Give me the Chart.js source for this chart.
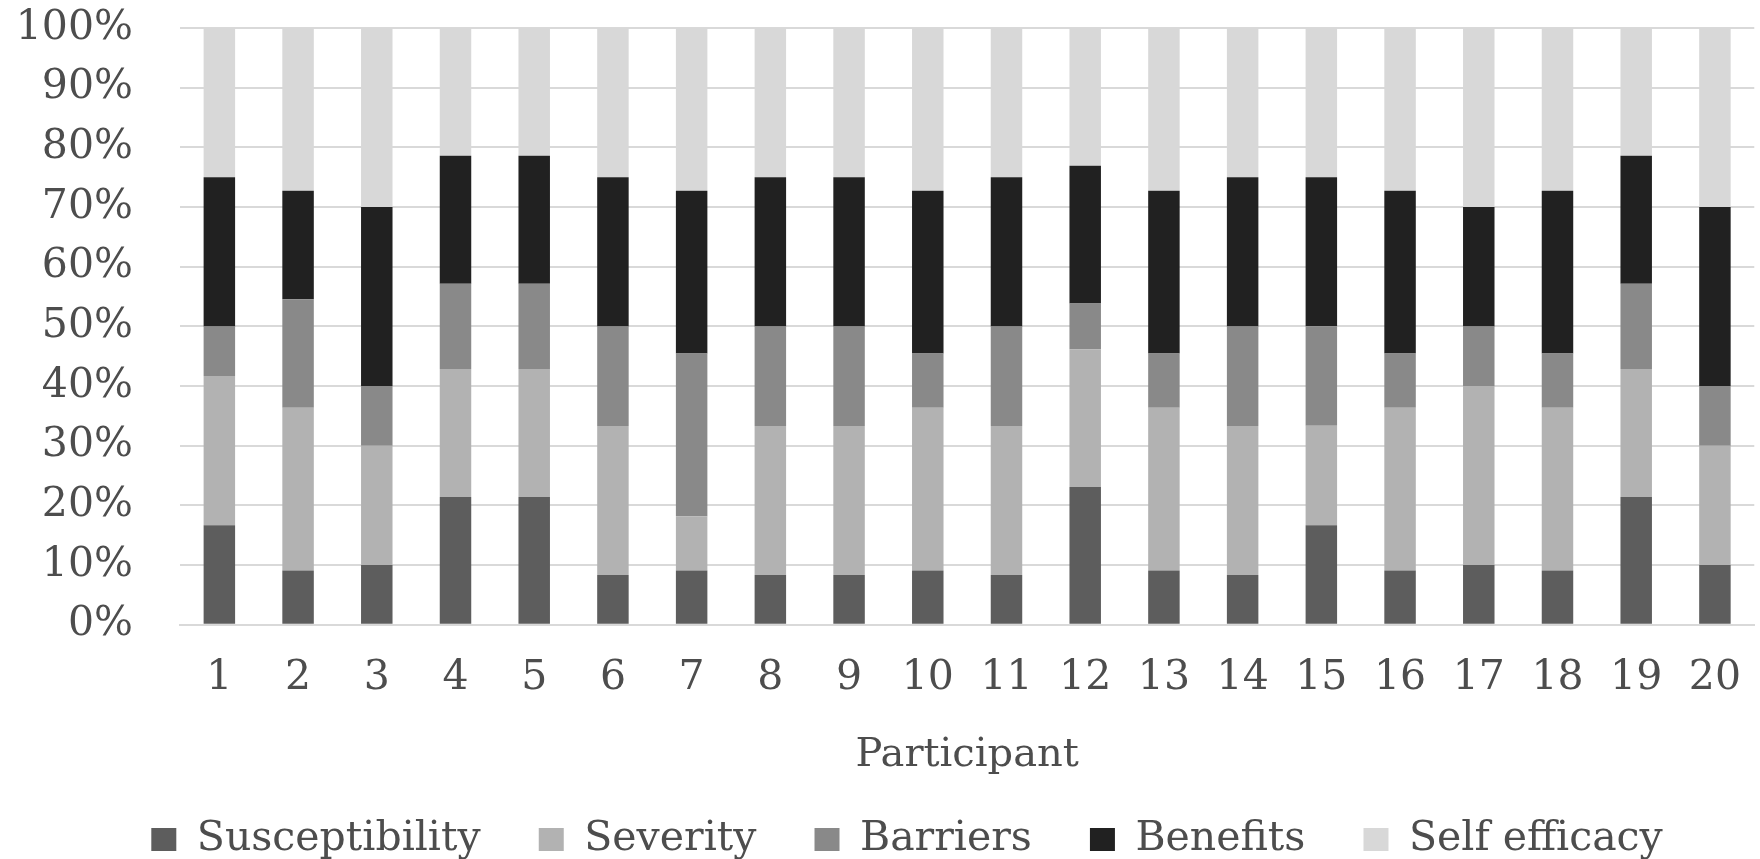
<!DOCTYPE html>
<html>
<head>
<meta charset="utf-8">
<script src="https://cdn.jsdelivr.net/npm/chart.js@4"></script>
<style>
	html, body { margin: 0; padding: 0; background: #fff; overflow: hidden; }
	#wrap { width: 1770px; height: 870px; }
</style>
</head>
<body>
<div id="wrap"><canvas id="barChart" width="1770" height="870"></canvas></div>
<script>
// Share of each construct per participant (percent of that participant's total)
const participants = ["1","2","3","4","5","6","7","8","9","10","11","12","13","14","15","16","17","18","19","20"];

const susceptibility = [16.67, 9.09, 10, 21.43, 21.43, 8.33, 9.09, 8.33, 8.33, 9.09, 8.33, 23.08, 9.09, 8.33, 16.67, 9.09, 10, 9.09, 21.43, 10];
const severity       = [25, 27.27, 20, 21.43, 21.43, 25, 9.09, 25, 25, 27.27, 25, 23.08, 27.27, 25, 16.67, 27.27, 30, 27.27, 21.43, 20];
const barriers       = [8.33, 18.18, 10, 14.29, 14.29, 16.67, 27.27, 16.67, 16.67, 9.09, 16.67, 7.69, 9.09, 16.67, 16.67, 9.09, 10, 9.09, 14.29, 10];
const benefits       = [25, 18.18, 30, 21.43, 21.43, 25, 27.27, 25, 25, 27.27, 25, 23.08, 27.27, 25, 25, 27.27, 20, 27.27, 21.43, 30];
const selfEfficacy   = [25, 27.27, 30, 21.43, 21.43, 25, 27.27, 25, 25, 27.27, 25, 23.08, 27.27, 25, 25, 27.27, 30, 27.27, 21.43, 30];

const yTicks = [0, 10, 20, 30, 40, 50, 60, 70, 80, 90, 100];

// nudges the legend row a little to the right of the canvas centre
const legendShift = {
	id: "legendShift",
	afterLayout: function(chart) {
		if (chart.legend) {
			chart.legend.left += 18;
			chart.legend.right += 18;
		}
	}
};

document.addEventListener('DOMContentLoaded', function() {
	const textColor = "#4d4d4d";
	const fontFamily = "'DejaVu Serif', serif";

	const ctx = document.getElementById("barChart").getContext("2d");

	const series = [
		{ label: "Susceptibility", data: susceptibility, color: "#5d5d5d" },
		{ label: "Severity",       data: severity,       color: "#b2b2b2" },
		{ label: "Barriers",       data: barriers,       color: "#898989" },
		{ label: "Benefits",       data: benefits,       color: "#212121" },
		{ label: "Self efficacy",  data: selfEfficacy,   color: "#d8d8d8" }
	];

	new Chart(ctx, {
		type: "bar",
		data: {
			labels: participants,
			datasets: series.map(s => ({
				label: s.label,
				data: s.data,
				backgroundColor: s.color,
				borderWidth: 0,
				categoryPercentage: 1,
				barPercentage: 0.40
			}))
		},
		plugins: [legendShift],
		options: {
			responsive: false,
			animation: false,
			layout: { padding: { left: 8, right: 0, top: 28, bottom: 0 } },
			plugins: {
				tooltip: { enabled: false },
				legend: {
					display: true,
					position: "bottom",
					labels: {
						color: textColor,
						font: { family: fontFamily, size: 41 },
						boxWidth: 25,
						boxHeight: 23,
						padding: 6,
						// a few trailing spaces widen the gap between entries
						generateLabels: function(chart) {
							const items = Chart.defaults.plugins.legend.labels.generateLabels(chart);
							items.forEach((item, i) => {
								item.lineWidth = 0;
								if (i < items.length - 1) item.text = item.text + "    ";
							});
							return items;
						}
					}
				}
			},
			scales: {
				x: {
					stacked: true,
					grid: { display: false, drawTicks: false },
					border: { display: true, color: "#d9d9d9", width: 2 },
					ticks: {
						color: textColor,
						font: { family: fontFamily, size: 41 },
						padding: 29,
						maxRotation: 0,
						autoSkip: false
					},
					title: {
						display: true,
						text: "Participant",
						color: textColor,
						font: { family: fontFamily, size: 40 },
						padding: { top: 0, bottom: 33 }
					}
				},
				y: {
					stacked: true,
					min: 0,
					max: 100,
					afterFit: function(scale) {
						scale.width = 172;
						// keep the label gap from pushing the plot down
						scale.paddingTop = 0;
						scale.paddingBottom = 0;
					},
					afterBuildTicks: function(scale) {
						scale.ticks = yTicks.map(v => ({ value: v }));
					},
					grid: { color: "#d9d9d9", lineWidth: 2, drawTicks: false },
					border: { display: false },
					ticks: {
						color: textColor,
						font: { family: fontFamily, size: 41 },
						padding: 47,
						callback: function(value) { return value + "%"; }
					}
				}
			}
		}
	});
});
</script>
</body>
</html>
